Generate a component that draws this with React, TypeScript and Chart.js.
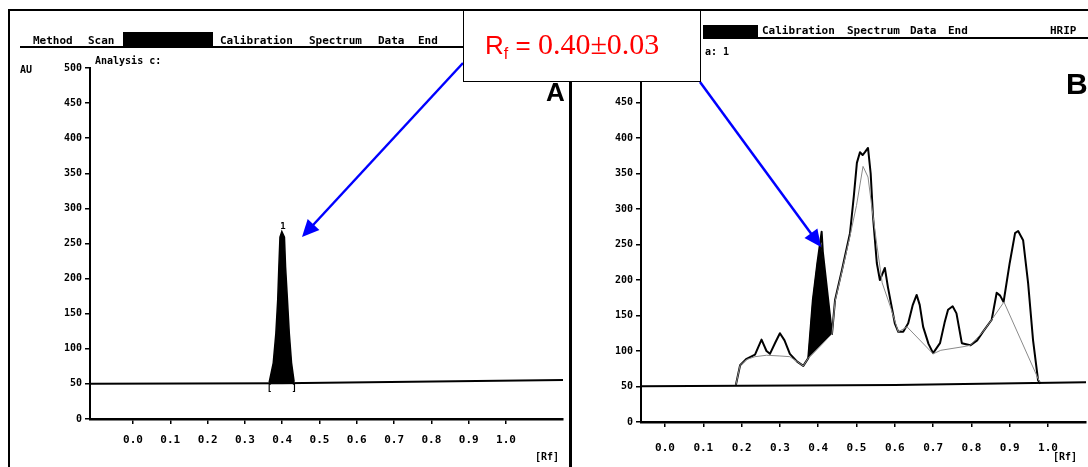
import React, { useEffect, useRef } from "react";
import { Chart, registerables } from "chart.js";

// ---------- data ----------
const RF_TICKS = [0, 0.1, 0.2, 0.3, 0.4, 0.5, 0.6, 0.7, 0.8, 0.9, 1.0];
const RF_TICK_LABELS = ["0.0", "0.1", "0.2", "0.3", "0.4", "0.5", "0.6", "0.7", "0.8", "0.9", "1.0"];
const AU_TICKS = [0, 50, 100, 150, 200, 250, 300, 350, 400, 450, 500];

// Panel A: single peak at Rf 0.40
const A_PEAK_RF = [0.365, 0.376, 0.383, 0.388, 0.391, 0.394, 0.399, 0.406, 0.409, 0.414, 0.419, 0.425, 0.432];
const A_PEAK_AU = [52, 80, 122, 170, 217, 259, 267, 259, 217, 170, 122, 80, 53];
const A_LINE50_RF = [-0.2, 0.4, 1.2];
const A_LINE50_AU = [50, 51, 56];

// Panel B: sample scan
const B_CURVE_RF = [0.185, 0.196, 0.213, 0.235, 0.252, 0.265, 0.274, 0.288, 0.3, 0.312, 0.326, 0.345, 0.361, 0.374, 0.386, 0.398, 0.409, 0.412, 0.436, 0.444, 0.462, 0.483, 0.493, 0.501, 0.509, 0.516, 0.522, 0.53, 0.537, 0.543, 0.553, 0.561, 0.574, 0.582, 0.6, 0.609, 0.622, 0.635, 0.647, 0.657, 0.665, 0.674, 0.688, 0.7, 0.718, 0.73, 0.739, 0.751, 0.761, 0.775, 0.797, 0.815, 0.83, 0.853, 0.866, 0.875, 0.884, 0.9, 0.914, 0.922, 0.935, 0.948, 0.961, 0.974, 0.98];
const B_CURVE_AU = [52, 80, 89, 95, 116, 100, 96, 112, 125, 115, 96, 85, 79, 90, 172, 225, 268, 240, 124, 172, 214, 266, 318, 365, 380, 376, 380, 386, 350, 290, 224, 200, 217, 190, 139, 127, 127, 139, 165, 179, 165, 134, 110, 97, 111, 140, 158, 163, 153, 111, 108, 115, 127, 144, 182, 178, 169, 224, 266, 269, 256, 196, 115, 59, 54];

const B_BASE_RF = [0.185, 0.196, 0.213, 0.235, 0.265, 0.3, 0.326, 0.345, 0.361, 0.374, 0.436, 0.444, 0.462, 0.483, 0.5, 0.517, 0.53, 0.54, 0.553, 0.567, 0.59, 0.609, 0.632, 0.7, 0.72, 0.778, 0.797, 0.83, 0.853, 0.885, 0.98];
const B_BASE_AU = [52, 80, 88, 92, 94, 93, 92, 85, 79, 90, 124, 170, 212, 262, 305, 360, 345, 303, 250, 196, 160, 127, 134, 96, 101, 106, 108, 127, 144, 169, 54];

const B_PEAK_RF = [0.374, 0.386, 0.398, 0.407, 0.412, 0.436];
const B_PEAK_AU = [90, 172, 225, 250, 232, 124];
const B_PEAK_BASE_RF = [0.374, 0.436];
const B_PEAK_BASE_AU = [90, 124];

const B_LINE50_RF = [-0.2, 0.6, 1.2];
const B_LINE50_AU = [50, 52, 57];

const pts = (xs: number[], ys: number[]) => xs.map((x, i) => ({ x, y: ys[i] }));

// ---------- plugin for small text marks in data coords ----------
const marksPlugin = {
  id: "marks",
  afterDatasetsDraw(chart: any, _args: any, opts: any) {
    const items = (opts && opts.items) || [];
    const ctx = chart.ctx;
    ctx.save();
    for (const it of items) {
      const x = chart.scales.x.getPixelForValue(it.x);
      const y = chart.scales.y.getPixelForValue(it.y);
      ctx.font = it.font;
      ctx.fillStyle = "#000";
      ctx.textAlign = "center";
      ctx.textBaseline = it.baseline || "bottom";
      ctx.fillText(it.text, x, y);
    }
    ctx.restore();
  },
};

Chart.register(...registerables, marksPlugin);

const MONO = "'DejaVu Sans Mono', monospace";

function makeOptions(cfg: any) {
  return {
    animation: false,
    responsive: false,
    maintainAspectRatio: false,
    events: [],
    layout: { padding: { top: cfg.padTop, right: cfg.padRight, left: 0, bottom: 0 } },
    plugins: {
      legend: { display: false },
      tooltip: { enabled: false },
      marks: { items: cfg.marks },
    },
    scales: {
      x: {
        type: "linear",
        min: cfg.xMin,
        max: cfg.xMax,
        afterBuildTicks: (s: any) => {
          s.ticks = RF_TICKS.map((v) => ({ value: v }));
        },
        afterFit: (s: any) => {
          s.height = cfg.xAxisH;
        },
        ticks: {
          callback: (_v: any, i: number) => RF_TICK_LABELS[i],
          font: { family: MONO, size: 11, weight: "bold" },
          color: "#000",
          padding: cfg.xLabelPad,
          maxRotation: 0,
          autoSkip: false,
        },
        grid: { drawOnChartArea: false, drawTicks: true, tickLength: 5, color: "#000", lineWidth: 1.5 },
        border: { display: true, color: "#000", width: 2.5 },
      },
      y: {
        type: "linear",
        min: 0,
        max: 500,
        afterBuildTicks: (s: any) => {
          s.ticks = AU_TICKS.map((v) => ({ value: v }));
        },
        afterFit: (s: any) => {
          s.width = cfg.yAxisW;
        },
        ticks: {
          callback: (v: any) => String(v),
          font: { family: MONO, size: 10, weight: "bold" },
          color: "#000",
          padding: 3,
        },
        grid: { drawOnChartArea: false, drawTicks: true, tickLength: 5, color: "#000", lineWidth: 1.5 },
        border: { display: true, color: "#000", width: 2 },
      },
    },
  };
}

function ChartA() {
  const ref = useRef<HTMLCanvasElement>(null);
  useEffect(() => {
    const chart = new Chart(ref.current as HTMLCanvasElement, {
      type: "line",
      data: {
        datasets: [
          {
            data: pts(A_LINE50_RF, A_LINE50_AU),
            borderColor: "#000",
            borderWidth: 2,
            pointRadius: 0,
            fill: false,
          },
          {
            data: pts(A_PEAK_RF, A_PEAK_AU),
            borderColor: "#000",
            backgroundColor: "#000",
            borderWidth: 1.5,
            pointRadius: 0,
            fill: { value: 50 },
          },
        ],
      },
      options: makeOptions({
        padTop: 28,
        padRight: 5,
        xMin: -0.1153,
        xMax: 1.1528,
        xAxisH: 48,
        yAxisW: 80,
        xLabelPad: 10,
        marks: [
          { x: 0.402, y: 268, text: "1", font: `bold 9px ${MONO}` },
          { x: 0.366, y: 50, text: "[", font: `bold 9px ${MONO}`, baseline: "top" },
          { x: 0.432, y: 50, text: "]", font: `bold 9px ${MONO}`, baseline: "top" },
        ],
      }) as any,
    });
    return () => chart.destroy();
  }, []);
  return (
    <canvas
      ref={ref}
      width={558}
      height={427}
      style={{ position: "absolute", left: 10, top: 40, width: 558, height: 427 }}
    />
  );
}

function ChartB() {
  const ref = useRef<HTMLCanvasElement>(null);
  useEffect(() => {
    const chart = new Chart(ref.current as HTMLCanvasElement, {
      type: "line",
      data: {
        datasets: [
          {
            data: pts(B_LINE50_RF, B_LINE50_AU),
            borderColor: "#000",
            borderWidth: 2,
            pointRadius: 0,
            fill: false,
          },
          {
            data: pts(B_BASE_RF, B_BASE_AU),
            borderColor: "#8a8a8a",
            borderWidth: 1,
            pointRadius: 0,
            fill: false,
          },
          {
            data: pts(B_PEAK_RF, B_PEAK_AU),
            borderColor: "#000",
            backgroundColor: "#000",
            borderWidth: 1,
            pointRadius: 0,
            fill: "+1",
          },
          {
            data: pts(B_PEAK_BASE_RF, B_PEAK_BASE_AU),
            borderColor: "#000",
            borderWidth: 1,
            pointRadius: 0,
            fill: false,
          },
          {
            data: pts(B_CURVE_RF, B_CURVE_AU),
            borderColor: "#000",
            borderWidth: 2,
            pointRadius: 0,
            fill: false,
            borderJoinStyle: "round",
          },
        ],
      },
      options: makeOptions({
        padTop: 27,
        padRight: 2,
        xMin: -0.0627,
        xMax: 1.0992,
        xAxisH: 45,
        yAxisW: 68,
        xLabelPad: 15,
        marks: [],
      }) as any,
    });
    return () => chart.destroy();
  }, []);
  return (
    <canvas
      ref={ref}
      width={515}
      height={427}
      style={{ position: "absolute", left: 573, top: 40, width: 515, height: 427 }}
    />
  );
}

function arrow(x1: number, y1: number, x2: number, y2: number, key: string) {
  const dx = x2 - x1;
  const dy = y2 - y1;
  const len = Math.sqrt(dx * dx + dy * dy);
  const ux = dx / len;
  const uy = dy / len;
  const hl = 17;
  const hw = 8;
  const bx = x2 - ux * hl;
  const by = y2 - uy * hl;
  const px = -uy;
  const py = ux;
  const poly = `${x2},${y2} ${bx + px * hw},${by + py * hw} ${bx - px * hw},${by - py * hw}`;
  return (
    <g key={key}>
      <line x1={x1} y1={y1} x2={bx + ux * 2} y2={by + uy * 2} stroke="#0000ff" strokeWidth={2.5} />
      <polygon points={poly} fill="#0000ff" />
    </g>
  );
}

const hdr: React.CSSProperties = {
  position: "absolute",
  fontFamily: MONO,
  fontWeight: "bold",
  fontSize: 11,
  lineHeight: "12px",
  color: "#000",
  whiteSpace: "nowrap",
};

export default function App() {
  return (
    <div
      style={{
        position: "absolute",
        left: 0,
        top: 0,
        width: 1088,
        height: 467,
        overflow: "hidden",
        background: "#fff",
      }}
    >
      {/* frame lines */}
      <div style={{ position: "absolute", left: 8, top: 9, width: 1080, height: 2, background: "#000" }} />
      <div style={{ position: "absolute", left: 8, top: 9, width: 2, height: 458, background: "#000" }} />
      <div style={{ position: "absolute", left: 569, top: 9, width: 3, height: 458, background: "#000" }} />

      <ChartA />
      <ChartB />

      {/* panel A header */}
      <div style={{ position: "absolute", left: 20, top: 46, width: 445, height: 2, background: "#000" }} />
      <span style={{ ...hdr, left: 33, top: 35 }}>Method</span>
      <span style={{ ...hdr, left: 88, top: 35 }}>Scan</span>
      <div style={{ position: "absolute", left: 123, top: 32, width: 90, height: 14, background: "#000" }} />
      <span style={{ ...hdr, left: 220, top: 35 }}>Calibration</span>
      <span style={{ ...hdr, left: 309, top: 35 }}>Spectrum</span>
      <span style={{ ...hdr, left: 378, top: 35 }}>Data</span>
      <span style={{ ...hdr, left: 418, top: 35 }}>End</span>
      <span style={{ ...hdr, left: 95, top: 55, fontSize: 10 }}>Analysis c:</span>
      <span style={{ ...hdr, left: 20, top: 64, fontSize: 10 }}>AU</span>
      <span
        style={{
          position: "absolute",
          left: 546,
          top: 78,
          fontFamily: "'Liberation Sans', Arial, sans-serif",
          fontWeight: 900,
          fontSize: 26,
          lineHeight: "28px",
        }}
      >
        A
      </span>
      <span style={{ ...hdr, left: 535, top: 451, fontSize: 10 }}>[Rf]</span>

      {/* panel B header */}
      <div style={{ position: "absolute", left: 703, top: 37, width: 385, height: 2, background: "#000" }} />
      <div style={{ position: "absolute", left: 703, top: 25, width: 55, height: 13, background: "#000" }} />
      <span style={{ ...hdr, left: 762, top: 25 }}>Calibration</span>
      <span style={{ ...hdr, left: 847, top: 25 }}>Spectrum</span>
      <span style={{ ...hdr, left: 910, top: 25 }}>Data</span>
      <span style={{ ...hdr, left: 948, top: 25 }}>End</span>
      <span style={{ ...hdr, left: 1050, top: 25 }}>HRIP</span>
      <span style={{ ...hdr, left: 705, top: 46, fontSize: 10 }}>a: 1</span>
      <span
        style={{
          position: "absolute",
          left: 1066,
          top: 68,
          fontFamily: "'Liberation Sans', Arial, sans-serif",
          fontWeight: 900,
          fontSize: 30,
          lineHeight: "32px",
        }}
      >
        B
      </span>
      <span style={{ ...hdr, left: 1053, top: 451, fontSize: 10 }}>[Rf]</span>

      {/* arrows */}
      <svg
        width={1088}
        height={467}
        style={{ position: "absolute", left: 0, top: 0 }}
      >
        {arrow(463, 63, 302, 237, "a1")}
        {arrow(700, 82, 821, 247, "a2")}
      </svg>

      {/* Rf box */}
      <div
        style={{
          position: "absolute",
          left: 463,
          top: 10,
          width: 238,
          height: 72,
          background: "#fff",
          border: "1px solid #000",
          boxSizing: "border-box",
        }}
      >
        <div
          style={{
            position: "absolute",
            left: 21,
            top: 18,
            color: "#ff0000",
            whiteSpace: "nowrap",
            lineHeight: 1,
          }}
        >
          <span style={{ fontFamily: "'Liberation Sans', Arial, sans-serif", fontSize: 26 }}>R</span>
          <span
            style={{
              fontFamily: "'Liberation Sans', Arial, sans-serif",
              fontSize: 16,
              position: "relative",
              top: 5,
            }}
          >
            f
          </span>
          <span style={{ fontFamily: "'Liberation Sans', Arial, sans-serif", fontSize: 26 }}> = </span>
          <span style={{ fontFamily: "'Liberation Serif', 'Times New Roman', serif", fontSize: 30 }}>0.40±0.03</span>
        </div>
      </div>
    </div>
  );
}
